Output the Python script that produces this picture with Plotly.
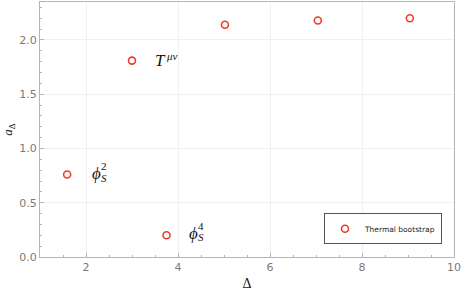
import plotly.graph_objects as go

delta = [1.59, 3.0, 3.75, 5.02, 7.04, 9.04]
a_delta = [0.76, 1.81, 0.20, 2.14, 2.18, 2.20]
series_name = "Thermal bootstrap"
x_ticks = [2, 4, 6, 8, 10]
y_ticks = [0.0, 0.5, 1.0, 1.5, 2.0]
y_ticktext = ["0.0", "0.5", "1.0", "1.5", "2.0"]

red = "#ee3a2c"
axis_col = "#b5b5b5"
tick_font = dict(family="DejaVu Sans", size=11, color="#7a7a7a")
serif = "Liberation Serif"

fig = go.Figure()
fig.add_trace(go.Scatter(
    x=delta, y=a_delta, mode="markers", name=series_name,
    marker=dict(symbol="circle-open", size=7, color=red, line=dict(width=1.6, color=red)),
))

common = dict(showline=True, linecolor=axis_col, linewidth=1, mirror=True,
              showgrid=True, gridcolor="#f0f0f0", gridwidth=1, zeroline=False,
              ticks="inside", ticklen=4, tickcolor=axis_col, tickfont=tick_font,
              automargin=False)

fig.update_xaxes(range=[1, 10], tickvals=x_ticks, ticktext=[str(v) for v in x_ticks],
                 minor=dict(dtick=0.5, tick0=0, ticks="inside", ticklen=2, tickcolor=axis_col, showgrid=False),
                 title=dict(text="Δ", font=dict(family=serif, size=14, color="#222"), standoff=4),
                 **common)
fig.update_yaxes(range=[0, 2.35], tickvals=y_ticks, ticktext=y_ticktext,
                 minor=dict(dtick=0.1, tick0=0, ticks="inside", ticklen=2, tickcolor=axis_col, showgrid=False),
                 title=dict(text="<i>a</i><sub>Δ</sub>", font=dict(family=serif, size=13, color="#222"), standoff=4),
                 **common)

ann_font = dict(family=serif, size=17, color="#111")
small_font = dict(family=serif, size=11, color="#111")
anns = [
    dict(x=3.63, y=1.81, text="<i>T</i>", font=ann_font),
    dict(x=3.87, y=1.85, text="<i>μν</i>", font=small_font),
    dict(x=2.22, y=0.77, text="<i>ϕ</i>", font=ann_font),
    dict(x=2.40, y=0.84, text="2", font=small_font),
    dict(x=2.39, y=0.73, text="<i>S</i>", font=small_font),
    dict(x=4.33, y=0.22, text="<i>ϕ</i>", font=ann_font),
    dict(x=4.50, y=0.29, text="4", font=small_font),
    dict(x=4.49, y=0.18, text="<i>S</i>", font=small_font),
]
for a in anns:
    a.update(xref="x", yref="y", showarrow=False, xanchor="center", yanchor="middle")
fig.update_layout(annotations=anns)

fig.update_layout(
    width=463, height=294,
    margin=dict(l=40, r=9, t=2, b=37),
    paper_bgcolor="white", plot_bgcolor="white",
    showlegend=True,
    legend=dict(x=0.971, y=0.05, xanchor="right", yanchor="bottom",
                bordercolor="#555", borderwidth=1, bgcolor="white",
                font=dict(family="DejaVu Sans", size=7.5, color="#222"),
                itemwidth=30, tracegroupgap=0),
)

fig.write_html("out.html", config={"displayModeBar": False},
               post_script="document.body.style.margin='0';document.body.style.padding='0';")
